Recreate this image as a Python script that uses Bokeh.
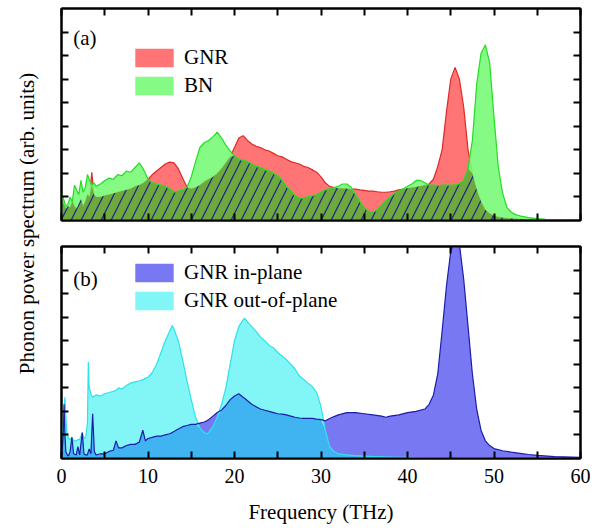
import numpy as np
from bokeh.plotting import figure
from bokeh.models import (Range1d, FixedTicker, LinearAxis, Legend, LegendItem, Label)
from bokeh.layouts import row, column
from bokeh.embed import file_html
from bokeh.resources import INLINE

# ---------------- data: panel (a) ----------------
freq_a = [0, 0.25, 0.5, 0.75, 1.0, 1.25, 1.5, 1.75, 2.0, 2.25, 2.5, 2.75, 3.0, 3.25, 3.5, 3.75, 4.0,
          4.5, 5.0, 5.5, 6.0, 6.5, 7.0, 7.5, 8.0, 8.5, 9.0, 9.5, 10.0, 10.5, 11.0, 11.5, 12.0, 12.5,
          13.0, 13.5, 14.0, 14.5, 15.0, 15.5, 16.0, 16.5, 17.0, 17.5, 18.0, 18.5, 19.0, 19.5, 20.0,
          20.5, 21.0, 21.5, 22.0, 22.5, 23.0, 23.5, 24.0, 24.5, 25.0, 25.5, 26.0, 26.5, 27.0, 27.5,
          28.0, 28.5, 29.0, 29.5, 30.0, 30.5, 31.0, 31.5, 32.0, 32.5, 33.0, 33.5, 34.0, 34.5, 35.0,
          35.5, 36.0, 36.5, 37.0, 37.5, 38.0, 38.5, 39.0, 39.5, 40.0, 40.5, 41.0, 41.5, 42.0, 42.5,
          43.0, 43.5, 44.0, 44.5, 45.0, 45.5, 46.0, 46.5, 47.0, 47.5, 48.0, 48.5, 49.0, 49.5, 50.0,
          50.5, 51.0, 51.5, 52.0, 52.5, 53.0, 54, 55, 56, 58, 60]
gnr_a = [1.0, 0.7, 0.5, 0.6, 0.55, 0.85, 0.6, 0.5, 0.7, 0.9, 0.6, 0.8, 1.1, 1.0, 2.05, 1.1, 1.0,
         1.0, 1.05, 1.1, 1.15, 1.2, 1.25, 1.3, 1.35, 1.45, 1.5, 1.6, 1.75, 1.95, 2.1, 2.25, 2.4, 2.48,
         2.45, 2.2, 1.8, 1.42, 1.35, 1.4, 1.5, 1.65, 1.75, 1.85, 2.0, 2.2, 2.45, 2.7, 3.1,
         3.5, 3.6, 3.4, 3.25, 3.15, 3.1, 3.0, 2.95, 2.85, 2.75, 2.7, 2.6, 2.5, 2.45, 2.4,
         2.3, 2.25, 2.15, 2.05, 1.85, 1.6, 1.45, 1.4, 1.37, 1.36, 1.35, 1.33, 1.33, 1.3, 1.28,
         1.25, 1.25, 1.22, 1.2, 1.2, 1.22, 1.25, 1.3, 1.33, 1.37, 1.4, 1.42, 1.45, 1.5, 1.55,
         1.75, 2.3, 3.0, 4.6, 6.0, 6.5, 6.0, 4.8, 3.0, 2.0, 1.3, 0.8, 0.45, 0.3, 0.2,
         0.15, 0.12, 0.1, 0.08, 0.07, 0.06, 0.05, 0.04, 0.03, 0.02, 0.02]
bn_a = [1.2, 0.9, 0.6, 0.7, 1.0, 0.8, 1.5, 1.3, 1.1, 1.7, 1.2, 1.4, 1.95, 1.7, 1.5, 1.6, 1.45,
        1.55, 1.7, 1.8, 1.75, 1.95, 1.9, 2.1, 2.05, 2.25, 2.45, 2.15, 1.75, 1.6, 1.55, 1.5, 1.45, 1.35,
        1.2, 1.25, 1.3, 1.4, 1.85, 2.5, 3.1, 3.3, 3.4, 3.55, 3.75, 3.5, 3.2, 2.95, 2.75,
        2.6, 2.55, 2.5, 2.4, 2.3, 2.25, 2.15, 2.1, 2.0, 1.9, 1.7, 1.45, 1.25, 1.05, 0.95,
        0.95, 1.0, 1.05, 1.1, 1.2, 1.3, 1.35, 1.4, 1.45, 1.55, 1.55, 1.4, 1.1, 0.8, 0.55,
        0.38, 0.35, 0.45, 0.65, 0.85, 1.0, 1.15, 1.25, 1.35, 1.45, 1.55, 1.7, 1.7, 1.6, 1.5,
        1.5, 1.48, 1.5, 1.5, 1.5, 1.5, 1.55, 1.7, 2.2, 3.4, 5.8, 7.1, 7.45, 6.7, 4.4,
        2.25, 1.15, 0.55, 0.35, 0.25, 0.2, 0.12, 0.08, 0.05, 0.03, 0.02]

# ---------------- data: panel (b) ----------------
freq_b = [0, 0.2, 0.3, 0.4, 0.5, 0.6, 0.8, 1.0, 1.2, 1.4, 1.7, 1.9, 2.1, 2.4, 2.6, 2.8, 3.0, 3.1,
          3.2, 3.4, 3.6, 3.8, 4.0, 4.5, 5.0, 5.5, 6.0, 6.3, 6.6, 7.0, 7.5, 8.0, 8.5, 9.0, 9.4, 9.7,
          10.0, 10.5, 11.0, 11.5, 12.0, 12.5, 12.8, 13.0, 13.5, 14.0, 14.5, 15.0, 15.5, 16.0, 16.5,
          16.8, 17.0, 17.5, 18.0, 18.5, 19.0, 19.5, 20.0, 20.5, 21.0, 21.2, 21.5, 22.0, 22.5, 23.0,
          23.5, 24.0, 24.5, 25.0, 25.5, 26.0, 26.5, 27.0, 27.5, 28.0, 28.5, 29.0, 29.5, 30.0, 30.5,
          31.0, 31.5, 32.0, 33.0, 34.0, 35.0, 36.0, 37.0, 37.5, 38.0, 39.0, 40.0, 41.0, 42.0, 42.5,
          43.0, 43.5, 44.0, 44.5, 45.0, 45.5, 46.0, 46.5, 47.0, 47.5, 48.0, 48.5, 49.0, 49.5, 50.0,
          51.0, 52.0, 53.0, 54.0, 55.0, 57.0, 60.0]
inplane_b = [0.0, 1.0, 2.3, 1.0, 0.3, 0.2, 0.1, 0.3, 0.9, 0.2, 0.15, 0.5, 0.15, 1.1, 0.2, 0.15, 0.15, 0.3,
             0.4, 0.2, 1.9, 0.3, 0.15, 0.2, 0.2, 0.3, 0.35, 0.75, 0.45, 0.45, 0.55, 0.6, 0.6, 0.7, 1.2, 0.75,
             0.85, 0.9, 0.95, 0.95, 1.0, 1.05, 1.1, 1.15, 1.25, 1.35, 1.4, 1.45, 1.45, 1.5, 1.55,
             1.6, 1.65, 1.8, 1.95, 2.05, 2.25, 2.5, 2.65, 2.75, 2.6, 2.55, 2.45, 2.3, 2.2, 2.1,
             2.05, 2.0, 1.95, 1.9, 1.88, 1.85, 1.8, 1.75, 1.72, 1.7, 1.7, 1.7, 1.67, 1.65, 1.6,
             1.7, 1.78, 1.85, 1.95, 1.95, 1.9, 1.85, 1.8, 1.75, 1.8, 1.85, 1.95, 2.0, 2.1, 2.3,
             2.7, 3.6, 5.4, 7.3, 8.8, 9.3, 9.1, 7.6, 5.6, 3.6, 2.1, 1.2, 0.75, 0.55, 0.42,
             0.33, 0.27, 0.22, 0.17, 0.13, 0.08, 0.05]
outplane_b = [0.3, 1.5, 2.2, 2.6, 1.8, 1.2, 0.85, 0.8, 0.9, 0.75, 0.75, 0.8, 0.8, 1.1, 0.85, 0.9, 1.5, 4.1,
              3.0, 2.75, 2.6, 2.65, 2.7, 2.65, 2.75, 2.8, 2.85, 2.9, 3.0, 2.95, 3.1, 3.2, 3.25, 3.3, 3.35, 3.4,
              3.45, 3.65, 4.0, 4.5, 5.0, 5.4, 5.65, 5.5, 5.0, 4.2, 3.3, 2.5, 1.75, 1.3, 1.1,
              1.05, 1.1, 1.35, 1.75, 2.3, 3.0, 4.0, 5.0, 5.6, 5.9, 5.95, 5.8, 5.6, 5.4, 5.15,
              5.0, 4.8, 4.7, 4.5, 4.35, 4.2, 4.0, 3.8, 3.5, 3.35, 3.2, 3.05, 2.8, 2.2, 1.2,
              0.5, 0.3, 0.2, 0.15, 0.12, 0.1, 0.08, 0.07, 0.06, 0.06, 0.05, 0.05, 0.04, 0.04, 0.03,
              0.03, 0.03, 0.03, 0.03, 0.02, 0.02, 0.02, 0.02, 0.02, 0.02, 0.02, 0.02, 0.02, 0.02, 0.02,
              0.01, 0.01, 0.01, 0.01, 0.01, 0.01, 0.01]

x_major = [0, 10, 20, 30, 40, 50, 60]
x_minor = [5, 15, 25, 35, 45, 55]
y_ticks = [1, 2, 3, 4, 5, 6, 7, 8]

FONT = "serif"
FRAME_W, FRAME_H = 519, 212


def style_axis(ax, ticker, labels=False):
    ax.ticker = ticker
    ax.major_tick_in = 7
    ax.major_tick_out = 0
    ax.minor_tick_in = 7
    ax.minor_tick_out = 0
    ax.major_tick_line_color = "black"
    ax.minor_tick_line_color = "black"
    ax.major_tick_line_width = 2
    ax.minor_tick_line_width = 2
    ax.axis_line_color = "black"
    ax.axis_line_width = 2
    if not labels:
        ax.major_label_text_font_size = "1px"
        ax.major_label_text_color = None
        ax.major_label_standoff = 0


def make_panel(border_top, border_bottom, show_xlabels):
    p = figure(frame_width=FRAME_W, frame_height=FRAME_H,
               x_range=Range1d(0, 60), y_range=Range1d(0, 9),
               toolbar_location=None, output_backend="svg",
               x_axis_location=None, y_axis_location=None,
               min_border_left=16, min_border_right=22,
               min_border_top=border_top, min_border_bottom=border_bottom)
    p.grid.visible = False
    p.outline_line_color = "black"
    p.outline_line_width = 2
    p.background_fill_color = "white"
    p.border_fill_color = "white"
    for loc in ("left", "right"):
        ax = LinearAxis()
        style_axis(ax, FixedTicker(ticks=y_ticks))
        p.add_layout(ax, loc)
    top = LinearAxis()
    style_axis(top, FixedTicker(ticks=x_major, minor_ticks=x_minor))
    p.add_layout(top, "above")
    bot = LinearAxis()
    style_axis(bot, FixedTicker(ticks=x_major, minor_ticks=x_minor), labels=show_xlabels)
    if show_xlabels:
        bot.major_label_text_font = FONT
        bot.major_label_text_font_size = "20px"
        bot.major_label_text_color = "black"
        bot.major_label_standoff = 10
        bot.axis_label = "Frequency (THz)"
        bot.axis_label_text_font = FONT
        bot.axis_label_text_font_size = "21px"
        bot.axis_label_text_font_style = "normal"
        bot.axis_label_text_color = "black"
        bot.axis_label_standoff = 14
    p.add_layout(bot, "below")
    return p


# ---------------- panel (a) ----------------
pa = make_panel(8, 13, False)
overlap_a = np.minimum(np.array(gnr_a), np.array(bn_a))
r_red = pa.varea(x=freq_a, y1=0, y2=gnr_a, fill_color="#ff7575")
pa.line(freq_a, gnr_a, line_color="#e02828", line_width=1.2)
r_green = pa.varea(x=freq_a, y1=0, y2=bn_a, fill_color="#78fb78", fill_alpha=0.9)
pa.varea(x=freq_a, y1=0, y2=overlap_a, fill_color="#6fa83c",
         hatch_pattern="/", hatch_color="#1b2a8c", hatch_scale=20, hatch_weight=1.3)
pa.line(freq_a, bn_a, line_color="#22dd22", line_width=1.2)

leg_a = Legend(items=[LegendItem(label="GNR", renderers=[r_red]),
                      LegendItem(label="BN", renderers=[r_green])],
               location=(69, 122))
pa.add_layout(leg_a)
pa.add_layout(Label(x=1.35, y=7.75, text="(a)", text_font=FONT, text_font_size="21px",
                    text_color="black", text_baseline="alphabetic"))

# ---------------- panel (b) ----------------
pb = make_panel(13, 70, True)
overlap_b = np.minimum(np.array(inplane_b), np.array(outplane_b))
r_blue = pb.varea(x=freq_b, y1=0, y2=inplane_b, fill_color="#7878f3")
r_cyan = pb.varea(x=freq_b, y1=0, y2=outplane_b, fill_color="#82f6f6")
pb.varea(x=freq_b, y1=0, y2=overlap_b, fill_color="#40b4f0")
pb.line(freq_b, outplane_b, line_color="#2ee2ea", line_width=1.2)
pb.line(freq_b, inplane_b, line_color="#1c1ca8", line_width=1.2)

leg_b = Legend(items=[LegendItem(label="GNR in-plane", renderers=[r_blue]),
                      LegendItem(label="GNR out-of-plane", renderers=[r_cyan])],
               location=(69, 145))
pb.add_layout(leg_b)
pb.add_layout(Label(x=1.35, y=7.6, text="(b)", text_font=FONT, text_font_size="21px",
                    text_color="black", text_baseline="alphabetic"))

for leg in (leg_a, leg_b):
    leg.border_line_color = None
    leg.background_fill_alpha = 0
    leg.padding = 0
    leg.margin = 0
    leg.spacing = 3
    leg.glyph_width = 48
    leg.glyph_height = 23
    leg.label_height = 23
    leg.label_standoff = 6
    leg.label_text_font = FONT
    leg.label_text_font_size = "21px"
    leg.label_text_color = "black"

# ---------------- shared y label ----------------
py = figure(frame_width=45, frame_height=528, x_range=Range1d(0, 45), y_range=Range1d(0, 528),
            toolbar_location=None, output_backend="svg",
            x_axis_location=None, y_axis_location=None, min_border=0)
py.grid.visible = False
py.outline_line_color = None
py.add_layout(Label(x=26, y=305, text="Phonon power spectrum (arb. units)", angle=np.pi / 2,
                    text_font=FONT, text_font_size="21px", text_color="black",
                    text_align="center", text_baseline="middle"))

layout = row(py, column(pa, pb))
open("out.html", "w").write(file_html(layout, INLINE))
